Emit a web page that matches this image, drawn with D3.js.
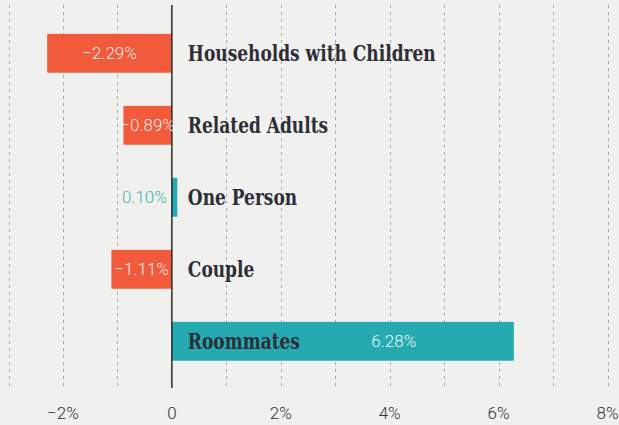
<!DOCTYPE html>
<html>
<head>
<meta charset="utf-8">
<script src="https://cdn.jsdelivr.net/npm/d3@7"></script>
<style>
  html, body { margin: 0; padding: 0; background: #f0f0ee; }
  svg { display: block; }
  .cat { font-family: "DejaVu Serif Condensed", "DejaVu Serif", serif; font-weight: bold; font-stretch: condensed; fill: #2e2e38; }
  .val { font-family: Roboto, "Open Sans", sans-serif; font-weight: 300; }
  .tick-label { font-family: Roboto, "Open Sans", sans-serif; font-weight: 300; fill: #333333; }
</style>
</head>
<body>
<svg id="chart" width="619" height="425"></svg>
<script>
// Change in household share by type, percentage points
const categories = ["Households with Children", "Related Adults", "One Person", "Couple", "Roommates"];
const changes = [-2.29, -0.89, 0.10, -1.11, 6.28];
const tickValues = [-2, 0, 2, 4, 6, 8];
const gridValues = [-3, -2, -1, 1, 2, 3, 4, 5, 6, 7, 8];

const W = 619, H = 425;
const svg = d3.select("#chart");
svg.append("rect").attr("width", W).attr("height", H).attr("fill", "#f0f0ee");

const x = d3.scaleLinear().domain([-3, 8]).range([8.5, 607.5]);
const y = d3.scaleBand().domain(categories).range([17.3, 377.3])
  .paddingInner(0.46).paddingOuter(0.23);

const gridTop = 5, gridBottom = 388;
const orange = "#f15a3b", teal = "#26aab1";

// dashed vertical grid
svg.append("g").selectAll("line").data(gridValues).join("line")
  .attr("x1", d => Math.round(x(d)) + 0.5).attr("x2", d => Math.round(x(d)) + 0.5)
  .attr("y1", gridTop).attr("y2", gridBottom)
  .attr("stroke", "#a8a8a8").attr("stroke-width", 1).attr("stroke-dasharray", "3,4");

// bars
const rows = categories.map((c, i) => ({ c, v: changes[i] }));
svg.append("g").selectAll("rect").data(rows).join("rect")
  .attr("x", d => x(Math.min(0, d.v)))
  .attr("y", d => y(d.c))
  .attr("width", d => Math.abs(x(d.v) - x(0)))
  .attr("height", y.bandwidth())
  .attr("fill", d => d.v < 0 ? orange : teal);

// zero baseline
svg.append("line")
  .attr("x1", x(0)).attr("x2", x(0)).attr("y1", gridTop).attr("y2", gridBottom)
  .attr("stroke", "#2a2a2a").attr("stroke-width", 1.5);

// category names, to the right of the baseline (tall, narrow slab lettering)
svg.append("g").selectAll("text").data(rows).join("text")
  .attr("class", "cat")
  .attr("transform", d => `translate(${x(0) + 16},${y(d.c) + y.bandwidth() / 2}) scale(0.86,1)`)
  .attr("dy", "0.36em")
  .attr("font-size", 22)
  .text(d => d.c);

// value labels
const fmt = v => d3.format(".2f")(v) + "%";
const isTiny = d => Math.abs(x(d.v) - x(0)) < 20;
svg.append("g").selectAll("text").data(rows).join("text")
  .attr("class", "val")
  .attr("font-size", 17)
  .attr("y", d => y(d.c) + y.bandwidth() / 2)
  .attr("dy", "0.36em")
  .attr("text-anchor", d => isTiny(d) ? "end" : "middle")
  .attr("x", d => {
    if (isTiny(d)) return x(0) - 5;                   // tiny bar: label sits left of the baseline
    if (d.v > 4) return x(d.v) - 120;                 // long bar: keep clear of the category name
    return (x(d.v) + x(0)) / 2;                       // centred in the bar
  })
  .attr("fill", d => isTiny(d) ? "#3bb3ba" : "#ffffff")
  .attr("fill-opacity", d => isTiny(d) ? 1 : 0.92)
  .text(d => fmt(d.v));

// axis tick labels
const axisFmt = v => v === 0 ? "0" : d3.format("d")(v) + "%";
svg.append("g").selectAll("text").data(tickValues).join("text")
  .attr("class", "tick-label")
  .attr("font-size", 17)
  .attr("x", d => x(d))
  .attr("y", 413)
  .attr("dy", "0.36em")
  .attr("text-anchor", "middle")
  .text(d => axisFmt(d));
</script>
</body>
</html>
